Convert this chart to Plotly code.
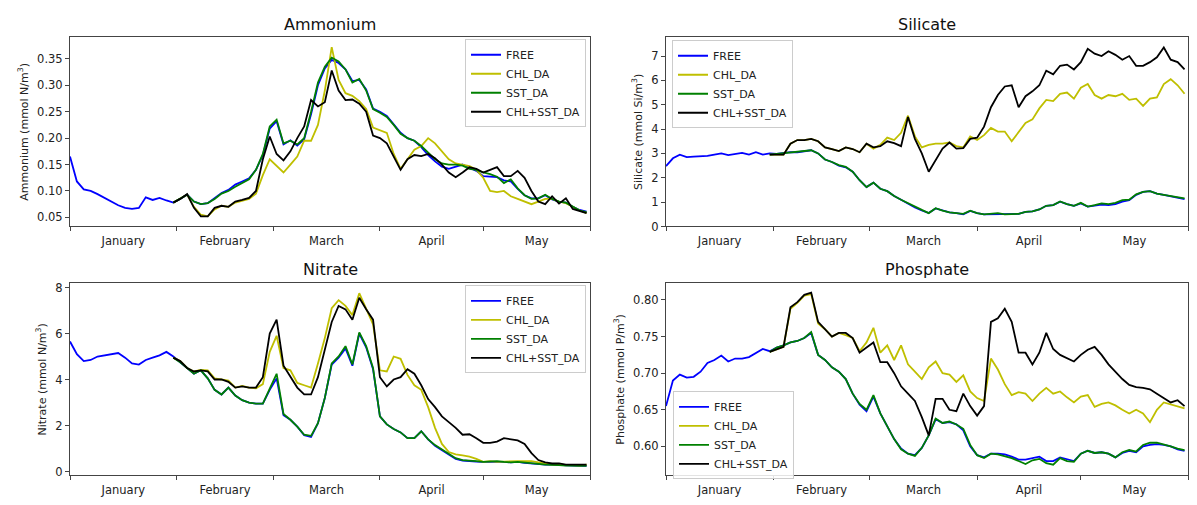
import pandas as pd
import plotly.graph_objects as go

# ---- sampling grid (days since 1 January, every second day) ----
DAYS_FREE = list(range(0, 151, 2))   # free run covers the whole period
DAYS_DA = list(range(30, 151, 2))    # assimilation runs start end of January
START = pd.Timestamp("2011-01-01")
END = START + pd.Timedelta(days=151)

# month boundaries carry the tick marks, month names sit in between
MONTH_STARTS = ["2011-01-01", "2011-02-01", "2011-03-01", "2011-04-01", "2011-05-01", "2011-06-01"]
MONTH_NAMES = ["January", "February", "March", "April", "May"]

SERIES = ["FREE", "CHL_DA", "SST_DA", "CHL+SST_DA"]
COLORS = {"FREE": "#0000ff", "CHL_DA": "#bfbf00", "SST_DA": "#008000", "CHL+SST_DA": "#000000"}

# ---- Ammonium (mmol N/m3) ----
amm_free = [0.165, 0.118, 0.103, 0.100, 0.094, 0.087, 0.080, 0.073, 0.068, 0.066, 0.068, 0.088, 0.083, 0.087, 0.082, 0.078,
            0.085, 0.093, 0.080, 0.075, 0.077, 0.086, 0.096, 0.102, 0.112, 0.118, 0.124, 0.140, 0.168, 0.218, 0.232,
            0.188, 0.196, 0.186, 0.198, 0.245, 0.300, 0.332, 0.348, 0.342, 0.330, 0.308, 0.310, 0.292, 0.256, 0.250,
            0.242, 0.226, 0.210, 0.200, 0.195, 0.183, 0.168, 0.156, 0.146, 0.142, 0.146, 0.150, 0.144, 0.138, 0.128,
            0.127, 0.126, 0.120, 0.118, 0.104, 0.092, 0.086, 0.086, 0.092, 0.084, 0.080, 0.078, 0.070, 0.064, 0.061]
amm_chl = [0.078, 0.085, 0.093, 0.070, 0.055, 0.052, 0.065, 0.072, 0.070, 0.078, 0.082, 0.085, 0.095, 0.130, 0.160,
           0.148, 0.135, 0.150, 0.165, 0.195, 0.195, 0.225, 0.290, 0.372, 0.310, 0.285, 0.280, 0.270, 0.255, 0.220,
           0.215, 0.210, 0.170, 0.142, 0.160, 0.178, 0.185, 0.200, 0.190, 0.175, 0.160, 0.152, 0.150, 0.147, 0.140,
           0.125, 0.100, 0.098, 0.100, 0.090, 0.085, 0.080, 0.075, 0.080, 0.085, 0.085, 0.080, 0.077, 0.070, 0.063, 0.058]
amm_sst = [0.078, 0.085, 0.093, 0.080, 0.075, 0.077, 0.085, 0.095, 0.100, 0.108, 0.115, 0.122, 0.140, 0.170, 0.222,
           0.235, 0.190, 0.195, 0.188, 0.200, 0.250, 0.305, 0.335, 0.352, 0.345, 0.330, 0.305, 0.312, 0.290, 0.255,
           0.248, 0.240, 0.225, 0.208, 0.200, 0.195, 0.185, 0.172, 0.160, 0.152, 0.150, 0.150, 0.148, 0.142, 0.140,
           0.135, 0.132, 0.127, 0.115, 0.122, 0.105, 0.092, 0.085, 0.086, 0.093, 0.085, 0.080, 0.078, 0.070, 0.063, 0.060]
amm_both = [0.078, 0.085, 0.094, 0.068, 0.052, 0.052, 0.068, 0.072, 0.070, 0.080, 0.083, 0.087, 0.100, 0.160, 0.203,
            0.170, 0.158, 0.175, 0.200, 0.222, 0.272, 0.260, 0.268, 0.328, 0.290, 0.272, 0.273, 0.265, 0.250, 0.205,
            0.200, 0.190, 0.165, 0.140, 0.160, 0.168, 0.166, 0.170, 0.162, 0.150, 0.135, 0.126, 0.135, 0.145, 0.142,
            0.135, 0.140, 0.145, 0.128, 0.128, 0.138, 0.125, 0.100, 0.080, 0.075, 0.090, 0.076, 0.086, 0.066, 0.062, 0.058]

# ---- Silicate (mmol Si/m3) ----
sil_free = [2.48, 2.80, 2.95, 2.85, 2.87, 2.88, 2.90, 2.95, 3.00, 2.93, 2.96, 3.02, 2.95, 3.05, 2.95, 3.00,
            2.98, 3.02, 3.05, 3.05, 3.10, 3.13, 3.00, 2.75, 2.65, 2.50, 2.43, 2.25, 1.90, 1.62, 1.80, 1.55, 1.45,
            1.25, 1.10, 0.93, 0.78, 0.66, 0.55, 0.74, 0.65, 0.58, 0.55, 0.50, 0.64, 0.55, 0.50, 0.50, 0.53, 0.50,
            0.50, 0.52, 0.60, 0.62, 0.70, 0.85, 0.88, 1.02, 0.92, 0.85, 0.95, 0.82, 0.86, 0.90, 0.88, 0.92, 1.02,
            1.08, 1.30, 1.42, 1.45, 1.35, 1.30, 1.25, 1.18, 1.12]
sil_chl = [2.95, 2.95, 2.95, 3.40, 3.55, 3.55, 3.60, 3.50, 3.25, 3.18, 3.10, 3.25, 3.18, 3.05, 3.40, 3.20, 3.35,
           3.65, 3.55, 3.85, 4.55, 3.70, 3.25, 3.35, 3.40, 3.40, 3.45, 3.30, 3.25, 3.70, 3.55, 3.75, 4.05, 3.90,
           3.90, 3.50, 3.90, 4.25, 4.40, 4.85, 5.20, 5.15, 5.45, 5.50, 5.25, 5.70, 5.85, 5.40, 5.25, 5.40, 5.35,
           5.45, 5.20, 5.25, 4.95, 5.25, 5.30, 5.85, 6.05, 5.80, 5.45]
sil_sst = [2.95, 2.98, 3.02, 3.05, 3.05, 3.10, 3.13, 3.00, 2.75, 2.65, 2.52, 2.45, 2.25, 1.90, 1.62, 1.80, 1.55,
           1.45, 1.25, 1.10, 0.95, 0.80, 0.68, 0.55, 0.75, 0.65, 0.58, 0.55, 0.52, 0.65, 0.55, 0.50, 0.52, 0.55,
           0.50, 0.52, 0.52, 0.60, 0.62, 0.70, 0.85, 0.88, 1.03, 0.92, 0.85, 0.97, 0.82, 0.88, 0.95, 0.92, 0.97,
           1.08, 1.10, 1.32, 1.42, 1.45, 1.35, 1.30, 1.25, 1.20, 1.15]
sil_both = [2.95, 2.95, 2.95, 3.40, 3.55, 3.55, 3.60, 3.50, 3.25, 3.18, 3.10, 3.25, 3.18, 3.05, 3.40, 3.25, 3.30,
            3.50, 3.42, 3.30, 4.50, 3.60, 3.00, 2.25, 2.70, 3.20, 3.45, 3.20, 3.22, 3.60, 3.65, 4.10, 4.90, 5.40,
            5.75, 5.80, 4.90, 5.35, 5.55, 5.80, 6.40, 6.25, 6.60, 6.65, 6.45, 6.75, 7.30, 7.10, 7.00, 7.20, 7.05,
            6.85, 7.00, 6.60, 6.60, 6.75, 6.95, 7.35, 6.85, 6.75, 6.45]

# ---- Nitrate (mmol N/m3) ----
nit_free = [5.65, 5.10, 4.80, 4.85, 5.00, 5.05, 5.10, 5.15, 4.95, 4.70, 4.65, 4.85, 4.95, 5.05, 5.20, 5.00,
            4.75, 4.50, 4.25, 4.40, 4.05, 3.55, 3.35, 3.65, 3.30, 3.10, 3.00, 2.95, 2.95, 3.55, 4.05, 2.45, 2.25,
            1.95, 1.58, 1.50, 2.10, 3.20, 4.65, 4.95, 5.35, 4.60, 6.00, 5.40, 4.45, 2.40, 2.05, 1.85, 1.70, 1.45,
            1.45, 1.75, 1.40, 1.12, 0.92, 0.72, 0.55, 0.48, 0.44, 0.43, 0.42, 0.43, 0.44, 0.42, 0.40, 0.42, 0.38,
            0.35, 0.33, 0.30, 0.30, 0.28, 0.26, 0.25, 0.25, 0.25]
nit_chl = [4.95, 4.80, 4.50, 4.35, 4.42, 4.40, 4.05, 4.00, 3.95, 3.65, 3.72, 3.65, 3.62, 3.80, 5.20, 5.90, 4.50,
           4.40, 3.85, 3.75, 3.65, 4.70, 5.80, 7.10, 7.45, 7.20, 6.80, 7.75, 7.10, 6.40, 4.40, 4.35, 5.00, 4.90,
           4.20, 3.75, 3.55, 2.80, 1.90, 1.20, 0.85, 0.75, 0.70, 0.65, 0.55, 0.42, 0.45, 0.42, 0.43, 0.45, 0.45,
           0.45, 0.45, 0.40, 0.35, 0.30, 0.30, 0.30, 0.28, 0.26, 0.30]
nit_sst = [4.95, 4.75, 4.50, 4.25, 4.40, 4.05, 3.55, 3.35, 3.65, 3.30, 3.10, 3.00, 2.95, 2.95, 3.60, 4.25, 2.50,
           2.25, 1.95, 1.60, 1.55, 2.10, 3.20, 4.70, 5.00, 5.45, 4.65, 6.05, 5.45, 4.50, 2.40, 2.05, 1.85, 1.70,
           1.45, 1.45, 1.75, 1.40, 1.15, 0.95, 0.75, 0.58, 0.50, 0.46, 0.45, 0.42, 0.43, 0.45, 0.42, 0.40, 0.42,
           0.38, 0.35, 0.33, 0.30, 0.30, 0.28, 0.26, 0.25, 0.25, 0.25]
nit_both = [4.95, 4.80, 4.50, 4.35, 4.40, 4.35, 4.00, 4.00, 3.90, 3.65, 3.70, 3.65, 3.65, 4.10, 6.00, 6.60, 4.60,
            4.10, 3.65, 3.35, 3.35, 4.10, 5.30, 6.50, 7.20, 7.05, 6.60, 7.55, 7.05, 6.60, 4.10, 3.70, 4.00, 4.10,
            4.45, 4.25, 3.75, 3.15, 2.80, 2.40, 2.15, 1.90, 1.60, 1.62, 1.45, 1.25, 1.25, 1.30, 1.45, 1.40, 1.35,
            1.20, 0.80, 0.50, 0.40, 0.35, 0.35, 0.30, 0.30, 0.32, 0.30]

# ---- Phosphate (mmol P/m3) ----
pho_free = [0.655, 0.690, 0.698, 0.694, 0.695, 0.702, 0.714, 0.718, 0.724, 0.716, 0.720, 0.720, 0.722, 0.727, 0.733, 0.730,
            0.735, 0.738, 0.742, 0.744, 0.748, 0.755, 0.725, 0.718, 0.708, 0.702, 0.692, 0.672, 0.657, 0.648, 0.668,
            0.645, 0.628, 0.610, 0.597, 0.590, 0.588, 0.598, 0.615, 0.637, 0.632, 0.633, 0.630, 0.622, 0.600, 0.588,
            0.585, 0.590, 0.590, 0.589, 0.586, 0.582, 0.582, 0.584, 0.586, 0.580, 0.580, 0.585, 0.582, 0.580, 0.590,
            0.594, 0.591, 0.592, 0.590, 0.585, 0.591, 0.594, 0.592, 0.600, 0.602, 0.603, 0.602, 0.600, 0.596, 0.594]
pho_chl = [0.729, 0.732, 0.736, 0.788, 0.796, 0.806, 0.808, 0.768, 0.760, 0.750, 0.755, 0.752, 0.748, 0.730, 0.742,
           0.762, 0.728, 0.738, 0.718, 0.738, 0.712, 0.702, 0.692, 0.708, 0.716, 0.700, 0.698, 0.688, 0.697, 0.675,
           0.666, 0.662, 0.720, 0.705, 0.685, 0.670, 0.674, 0.672, 0.662, 0.672, 0.680, 0.672, 0.675, 0.667, 0.660,
           0.668, 0.670, 0.654, 0.658, 0.660, 0.656, 0.650, 0.645, 0.650, 0.645, 0.633, 0.650, 0.660, 0.657, 0.655, 0.652]
pho_sst = [0.729, 0.735, 0.738, 0.742, 0.744, 0.748, 0.756, 0.725, 0.718, 0.708, 0.702, 0.692, 0.672, 0.658, 0.650,
           0.670, 0.645, 0.628, 0.610, 0.596, 0.590, 0.587, 0.598, 0.615, 0.638, 0.632, 0.634, 0.630, 0.624, 0.602,
           0.588, 0.584, 0.590, 0.589, 0.587, 0.584, 0.580, 0.576, 0.581, 0.583, 0.577, 0.575, 0.584, 0.580, 0.579,
           0.590, 0.594, 0.591, 0.592, 0.590, 0.585, 0.592, 0.595, 0.593, 0.602, 0.605, 0.605, 0.603, 0.600, 0.597, 0.595]
pho_both = [0.729, 0.732, 0.736, 0.790, 0.797, 0.807, 0.810, 0.770, 0.760, 0.750, 0.755, 0.755, 0.748, 0.728, 0.735,
            0.742, 0.715, 0.715, 0.700, 0.682, 0.672, 0.662, 0.640, 0.615, 0.665, 0.665, 0.650, 0.648, 0.672, 0.655,
            0.642, 0.655, 0.770, 0.775, 0.788, 0.770, 0.728, 0.728, 0.712, 0.728, 0.755, 0.733, 0.725, 0.720, 0.716,
            0.725, 0.732, 0.736, 0.725, 0.712, 0.702, 0.692, 0.684, 0.681, 0.680, 0.678, 0.672, 0.666, 0.660, 0.663, 0.655]

FONT = "DejaVu Sans"
TICK_SIZE = 11.5
AXIS_COLOR = "#444444"
W, H = 1197, 505


def px_x(p):
    return p / W


def px_y(p):
    return 1 - p / H


# column / row frames in pixels
COLS = [(70, 590), (666, 1188)]
ROWS = [(35, 228), (286, 482)]

PANELS = [
    dict(title="Ammonium", ylabel="Ammonium (mmol N/m<sup>3</sup>)", col=0, row=0,
         data=[amm_free, amm_chl, amm_sst, amm_both],
         yrange=[0.0328, 0.3907], ticks=[0.05, 0.10, 0.15, 0.20, 0.25, 0.30, 0.35], fmt=".2f",
         legend=dict(x=px_x(586), y=px_y(37), xanchor="right", yanchor="top")),
    dict(title="Silicate", ylabel="Silicate (mmol Si/m<sup>3</sup>)", col=1, row=0,
         data=[sil_free, sil_chl, sil_sst, sil_both],
         yrange=[0, 7.77], ticks=[0, 1, 2, 3, 4, 5, 6, 7], fmt="d",
         legend=dict(x=px_x(672), y=px_y(38), xanchor="left", yanchor="top")),
    dict(title="Nitrate", ylabel="Nitrate (mmol N/m<sup>3</sup>)", col=0, row=1,
         data=[nit_free, nit_chl, nit_sst, nit_both],
         yrange=[-0.17, 8.18], ticks=[0, 2, 4, 6, 8], fmt="d",
         legend=dict(x=px_x(586), y=px_y(288), xanchor="right", yanchor="top")),
    dict(title="Phosphate", ylabel="Phosphate (mmol P/m<sup>3</sup>)", col=1, row=1,
         data=[pho_free, pho_chl, pho_sst, pho_both],
         yrange=[0.5603, 0.8227], ticks=[0.60, 0.65, 0.70, 0.75, 0.80], fmt=".2f",
         legend=dict(x=px_x(673), y=px_y(486), xanchor="left", yanchor="bottom")),
]

fig = go.Figure()
layout = dict(
    width=W, height=H, margin=dict(l=0, r=0, t=0, b=0),
    paper_bgcolor="white", plot_bgcolor="white",
    font=dict(family=FONT, size=11, color="#222222"),
    annotations=[],
)

dates_free = [START + pd.Timedelta(days=d) for d in DAYS_FREE]
dates_da = [START + pd.Timedelta(days=d) for d in DAYS_DA]
bounds = [pd.Timestamp(m) for m in MONTH_STARTS]
mid_months = [a + (b - a) / 2 for a, b in zip(bounds[:-1], bounds[1:])]

for i, p in enumerate(PANELS, start=1):
    sfx = "" if i == 1 else str(i)
    legend_name = "legend" if i == 1 else f"legend{i}"
    for name, values in zip(SERIES, p["data"]):
        xs = dates_free if name == "FREE" else dates_da
        assert len(xs) == len(values), (p["title"], name, len(values))
        fig.add_trace(go.Scatter(
            x=xs, y=values, mode="lines", name=name,
            line=dict(color=COLORS[name], width=1.8),
            xaxis="x" + sfx, yaxis="y" + sfx, legend=legend_name,
        ))

    x0, x1 = COLS[p["col"]]
    top, bottom = ROWS[p["row"]]
    layout["xaxis" + sfx] = dict(
        domain=[px_x(x0), px_x(x1)], anchor="y" + sfx, type="date",
        range=[START, END],
        # month names centred in each month; the major marks are hidden
        tickmode="array", tickvals=mid_months, ticktext=MONTH_NAMES,
        ticks="outside", ticklen=4, tickcolor="rgba(0,0,0,0)",
        # visible marks at the month boundaries
        minor=dict(tickmode="array", tickvals=bounds, ticks="outside", ticklen=4,
                   tickcolor=AXIS_COLOR, showgrid=False),
        showline=True, mirror=True, linecolor=AXIS_COLOR, linewidth=1,
        showgrid=False, zeroline=False, tickfont=dict(size=TICK_SIZE, family=FONT),
    )
    layout["yaxis" + sfx] = dict(
        domain=[px_y(bottom), px_y(top)], anchor="x" + sfx,
        range=p["yrange"], tickvals=p["ticks"], tickformat=p["fmt"],
        ticks="outside", ticklen=4, tickcolor=AXIS_COLOR,
        showline=True, mirror=True, linecolor=AXIS_COLOR, linewidth=1,
        showgrid=False, zeroline=False, tickfont=dict(size=TICK_SIZE, family=FONT),
        title=dict(text=p["ylabel"], font=dict(size=11, family=FONT), standoff=6),
    )
    layout[legend_name] = dict(
        **p["legend"], xref="paper", yref="paper",
        bgcolor="rgba(255,255,255,0.85)", bordercolor="#cccccc", borderwidth=1,
        font=dict(size=11, family=FONT), tracegroupgap=0, itemwidth=30,
    )
    layout["annotations"].append(dict(
        text=p["title"], x=px_x((x0 + x1) / 2), y=px_y(22 if p["row"] == 0 else 272),
        xref="paper", yref="paper", xanchor="center", yanchor="middle",
        showarrow=False, font=dict(size=16, family=FONT, color="#111111"),
    ))

fig.update_layout(**layout)
fig.write_html("out.html")
